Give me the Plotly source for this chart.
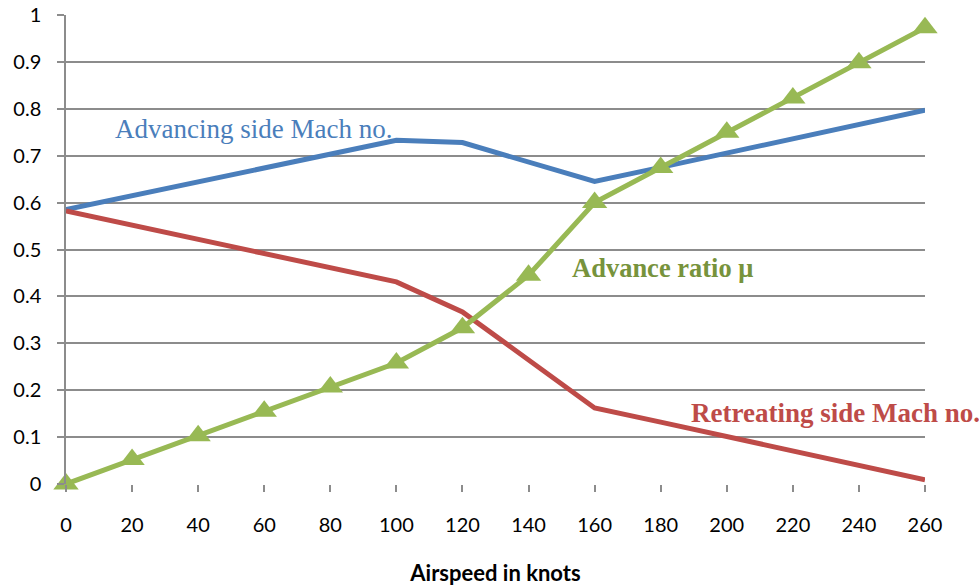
import plotly.graph_objects as go

airspeed = [0, 20, 40, 60, 80, 100, 120, 140, 160, 180, 200, 220, 240, 260]
advancing_mach = [0.585, 0.615, 0.645, 0.675, 0.705, 0.733, 0.728, 0.687, 0.645, 0.675, 0.705, 0.736, 0.766, 0.797]
retreating_mach = [0.582, 0.552, 0.522, 0.492, 0.461, 0.431, 0.367, 0.264, 0.162, 0.132, 0.101, 0.071, 0.040, 0.009]
advance_ratio = [0.0, 0.052, 0.103, 0.155, 0.207, 0.258, 0.333, 0.445, 0.600, 0.675, 0.750, 0.823, 0.898, 0.973]

x_ticks = list(range(0, 261, 20))
y_ticks = [0, 0.1, 0.2, 0.3, 0.4, 0.5, 0.6, 0.7, 0.8, 0.9, 1.0]
y_tick_labels = ["0", "0.1", "0.2", "0.3", "0.4", "0.5", "0.6", "0.7", "0.8", "0.9", "1"]

BLUE = "#4A7EBB"
RED = "#BE4B48"
GREEN = "#98B954"
GRID = "#8C8C8C"

fig = go.Figure()
fig.add_trace(go.Scatter(x=airspeed, y=advancing_mach, mode="lines",
                         line=dict(color=BLUE, width=5), cliponaxis=False,
                         name="Advancing side Mach no."))
fig.add_trace(go.Scatter(x=airspeed, y=retreating_mach, mode="lines",
                         line=dict(color=RED, width=5), cliponaxis=False,
                         name="Retreating side Mach no."))
fig.add_trace(go.Scatter(x=airspeed, y=advance_ratio, mode="lines+markers",
                         line=dict(color=GREEN, width=5),
                         marker=dict(symbol="triangle-up", size=22, color=GREEN),
                         cliponaxis=False, name="Advance ratio μ"))

fig.add_annotation(x=14.6, y=0.757, xanchor="left", yanchor="middle", showarrow=False,
                   text="Advancing side Mach no.", borderpad=0,
                   font=dict(family="Liberation Serif", size=27, color=BLUE))
fig.add_annotation(x=152.8, y=0.461, xanchor="left", yanchor="middle", showarrow=False,
                   text="<b>Advance ratio μ</b>", borderpad=0,
                   font=dict(family="Liberation Serif", size=26.5, color="#77933C"))
fig.add_annotation(x=188.8, y=0.151, xanchor="left", yanchor="middle", showarrow=False,
                   text="<b>Retreating side Mach no.</b>", borderpad=0,
                   font=dict(family="Liberation Serif", size=27, color=RED))

fig.update_layout(
    width=979, height=586,
    margin=dict(l=66, r=54, t=15, b=102, autoexpand=False),
    paper_bgcolor="white", plot_bgcolor="white",
    showlegend=False,
    font=dict(family="Lato", color="black"),
)
fig.update_xaxes(
    range=[0, 260], tickvals=x_ticks, ticktext=[str(v) for v in x_ticks],
    showgrid=False, zeroline=False, showline=False, automargin=False,
    ticks="outside", ticklen=7, tickcolor=GRID, tickwidth=1.5,
    ticklabelstandoff=16,
    tickfont=dict(size=20, family="Lato"),
    title=dict(text="<b>Airspeed in knots</b>", font=dict(size=22, family="Lato"), standoff=30),
)
fig.update_yaxes(
    range=[0, 1], tickvals=y_ticks, ticktext=y_tick_labels,
    showgrid=True, gridcolor=GRID, gridwidth=1.5, automargin=False,
    zeroline=False, showline=True, linecolor=GRID, linewidth=1.5,
    ticks="outside", ticklen=7, tickcolor=GRID, tickwidth=1.5,
    ticklabelstandoff=12,
    tickfont=dict(size=20, family="Lato"),
)

fig.write_html("out.html")
